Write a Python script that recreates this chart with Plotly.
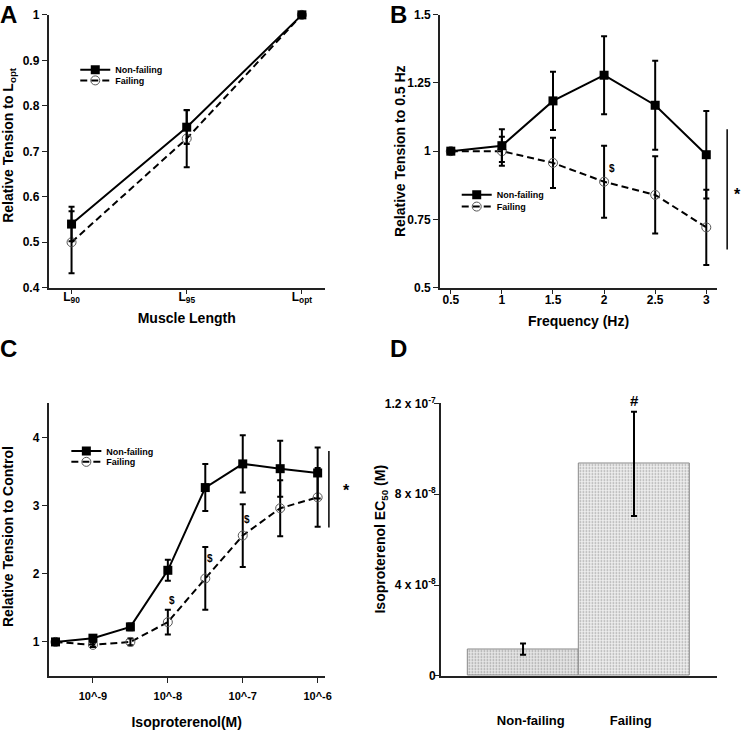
import plotly.graph_objects as go

FONT = "Liberation Sans, Arial, sans-serif"

# ---------- Panel A data ----------
a_cats = [0, 1, 2]
a_ticktext = ["L<sub>90</sub>", "L<sub>95</sub>", "L<sub>opt</sub>"]
a_nf = [0.54, 0.753, 1.0]
a_nf_err = [0.038, 0.037, 0.0]
a_f = [0.50, 0.728, 1.0]
a_f_err = [0.068, 0.063, 0.0]

# ---------- Panel B data ----------
b_freq = [0.5, 1, 1.5, 2, 2.5, 3]
b_nf = [1.0, 1.02, 1.184, 1.278, 1.168, 0.987]
b_nf_err = [0.0, 0.06, 0.107, 0.143, 0.163, 0.16]
b_f = [1.0, 1.0, 0.957, 0.888, 0.840, 0.721]
b_f_err = [0.0, 0.053, 0.092, 0.132, 0.141, 0.138]

# ---------- Panel C data ----------
c_logconc = [-9.5, -9, -8.5, -8, -7.5, -7, -6.5, -6]
c_tickvals = [-9, -8, -7, -6]
c_ticktext = ["10^-9", "10^-8", "10^-7", "10^-6"]
c_nf = [1.0, 1.055, 1.22, 2.05, 3.263, 3.61, 3.54, 3.477]
c_nf_err = [0.0, 0.04, 0.05, 0.155, 0.345, 0.42, 0.41, 0.375]
c_f = [1.0, 0.957, 1.0, 1.29, 1.93, 2.56, 2.96, 3.12]
c_f_err = [0.0, 0.03, 0.05, 0.18, 0.46, 0.46, 0.41, 0.43]

# ---------- Panel D data ----------
d_groups = ["Non-failing", "Failing"]
d_ec50 = [1.18e-8, 9.34e-8]
d_err = [0.25e-8, 2.3e-8]
d_tickvals = [0, 4e-8, 8e-8, 1.2e-7]
d_ticktext = ["0", "4 x 10<sup>-8</sup>", "8 x 10<sup>-8</sup>", "1.2 x 10<sup>-7</sup>"]

fig = go.Figure()

def add_pair(x, nf, nfe, f, fe, xa, ya, leg_nf, leg_f):
    fig.add_trace(go.Scatter(
        x=x, y=f, name="Failing", mode="lines+markers",
        line=dict(color="black", width=2, dash="7px,4px"),
        marker=dict(symbol="circle-open", size=9, color="#555", line=dict(width=1)),
        error_y=dict(type="data", array=fe, color="black", thickness=2, width=3),
        xaxis=xa, yaxis=ya, legend=leg_f, cliponaxis=False))
    fig.add_trace(go.Scatter(
        x=x, y=nf, name="Non-failing", mode="lines+markers",
        line=dict(color="black", width=2),
        marker=dict(symbol="square", size=9, color="black"),
        error_y=dict(type="data", array=nfe, color="black", thickness=2, width=3),
        xaxis=xa, yaxis=ya, legend=leg_nf, cliponaxis=False))

add_pair(a_cats, a_nf, a_nf_err, a_f, a_f_err, "x", "y", "legend", "legend2")
add_pair(b_freq, b_nf, b_nf_err, b_f, b_f_err, "x2", "y2", "legend3", "legend4")
add_pair(c_logconc, c_nf, c_nf_err, c_f, c_f_err, "x3", "y3", "legend5", "legend6")

fig.add_trace(go.Bar(
    x=[0, 1], y=d_ec50, width=1, xaxis="x4", yaxis="y4", showlegend=False,
    marker=dict(color=["#e6e6e6", "#eeeeee"], line=dict(color="#8a8a8a", width=1),
                pattern=dict(shape=".", fgcolor=["#c4c4c4", "#d4d4d4"], bgcolor=["#eeeeee", "#f2f2f2"],
                             size=3, solidity=0.25)),
    error_y=dict(type="data", array=d_err, color="black", thickness=2, width=3),
))

tickfont = dict(family=FONT, size=12, color="black", weight="bold")
titlefont = dict(family=FONT, size=14, color="black", weight="bold")
common = dict(showline=True, linecolor="#222", linewidth=1.5, ticks="outside", ticklen=5,
              tickwidth=1.2, tickcolor="#222", showgrid=False, zeroline=False,
              tickfont=tickfont)

leg_common = dict(bgcolor="rgba(0,0,0,0)", font=dict(family=FONT, size=9, color="black", weight="bold"),
                  itemwidth=30, xanchor="left", yanchor="middle")

fig.update_layout(
    width=750, height=730, margin=dict(l=0, r=0, t=0, b=0),
    paper_bgcolor="white", plot_bgcolor="white",
    bargap=0,
    xaxis=dict(domain=[0.0653, 0.4373], range=[-0.2, 2.2], tickvals=a_cats, ticktext=a_ticktext,
               ticklabelstandoff=-8,
               title=dict(text="Muscle Length", font=titlefont, standoff=9), **common),
    yaxis=dict(domain=[0.6096, 0.9918], range=[0.4, 1.0], dtick=0.1, **common),
    xaxis2=dict(domain=[0.592, 0.9653], range=[0.393, 3.107], tickvals=b_freq,
                ticktext=["0.5", "1", "1.5", "2", "2.5", "3"], ticklabelstandoff=-5,
                title=dict(text="Frequency (Hz)", font=titlefont, standoff=10), anchor="y2", **common),
    yaxis2=dict(domain=[0.6096, 0.9922], range=[0.5, 1.5], tickvals=[0.5, 0.75, 1, 1.25, 1.5],
                ticktext=["0.5", "0.75", "1", "1.25", "1.5"], anchor="x2", **common),
    xaxis3=dict(domain=[0.0653, 0.4373], range=[-9.593, -5.903], tickvals=c_tickvals, ticktext=c_ticktext,
                ticklabelstandoff=4,
                title=dict(text="Isoproterenol(M)", font=titlefont, standoff=18), anchor="y3",
                **{**common, "tickfont": dict(family=FONT, size=11, color="black", weight="bold")}),
    yaxis3=dict(domain=[0.0658, 0.4479], range=[0.5, 4.5], tickvals=[1, 2, 3, 4], anchor="x3", **common),
    xaxis4=dict(domain=[0.5933, 0.9653], range=[-0.741, 1.75], tickvals=[0.07, 0.97], ticktext=d_groups,
                anchor="y4", ticklabelstandoff=32,
                **{**common, "ticks": "", "tickfont": dict(family=FONT, size=13, color="black", weight="bold")}),
    yaxis4=dict(domain=[0.066, 0.4475], range=[0, 1.2e-7], tickvals=d_tickvals, ticktext=d_ticktext,
                anchor="x4", ticklabelstandoff=-4,
                **{**common, "tickfont": dict(family=FONT, size=12, color="black", weight="bold")}),
    legend=dict(x=0.1013, y=1 - 62 / 730, **leg_common),
    legend2=dict(x=0.1013, y=1 - 73 / 730, **leg_common),
    legend3=dict(x=0.6147, y=1 - 190 / 730, **leg_common),
    legend4=dict(x=0.6147, y=1 - 202 / 730, **leg_common),
    legend5=dict(x=0.0893, y=1 - 452 / 730, **leg_common),
    legend6=dict(x=0.0893, y=1 - 463 / 730, **leg_common),
)

# y-axis titles placed by hand
for txt, xp, yp in [("Relative Tension to L<sub>opt</sub>", 9, 139),
                    ("Relative Tension to 0.5 Hz", 404, 145),
                    ("Relative Tension to Control", 8, 539),
                    ("Isoproterenol EC<sub>50</sub> (M)", 385, 542)]:
    fig.add_annotation(text=txt, x=xp / 750, y=1 - yp / 730, xref="paper", yref="paper",
                       xanchor="center", yanchor="middle", textangle=-90, showarrow=False, font=titlefont)

# Panel letters
for txt, x, y, xs, ys in [("A", 0.0, 1.0, -2, 10), ("B", 0.523, 1.0, -1, 10),
                          ("C", 0.0, 1 - 338 / 730, -2, 7), ("D", 0.523, 1 - 338 / 730, -1, 7)]:
    fig.add_annotation(text=txt, x=x, y=y, xref="paper", yref="paper", xanchor="left", yanchor="top",
                       showarrow=False, xshift=xs, yshift=ys,
                       font=dict(family=FONT, size=24, color="black", weight="bold"))

# Significance marks
mark_font = dict(family=FONT, size=10, color="black", weight="bold")
fig.add_annotation(text="$", x=2.08, y=0.935, xref="x2", yref="y2", showarrow=False, font=mark_font)
for xv, yv in [(-6.94, 2.8), (-7.44, 2.22), (-7.95, 1.6)]:
    fig.add_annotation(text="$", x=xv, y=yv, xref="x3", yref="y3", showarrow=False, font=mark_font)
star_font = dict(family=FONT, size=16, color="black", weight="bold")
fig.add_annotation(text="*", x=1.0, y=1 - 190 / 730, xref="paper", yref="paper", showarrow=False,
                   xanchor="right", yanchor="middle", font=star_font)
fig.add_annotation(text="*", x=350 / 750, y=1 - 492 / 730, xref="paper", yref="paper", showarrow=False,
                   xanchor="center", yanchor="middle", font=star_font)
fig.add_annotation(text="#", x=1, y=1.2e-7, xref="x4", yref="y4", showarrow=False,
                   font=dict(family=FONT, size=15, color="black", weight="bold"), yanchor="bottom", yshift=-8)

fig.add_shape(type="line", xref="paper", yref="paper", x0=734 / 750, x1=734 / 750,
              y0=1 - 246 / 730, y1=1 - 123 / 730, line=dict(color="black", width=1.5))
fig.add_shape(type="line", xref="paper", yref="paper", x0=332 / 750, x1=332 / 750,
              y0=1 - 530 / 730, y1=1 - 452 / 730, line=dict(color="black", width=1.5))

fig.write_html("out.html", config={"displayModeBar": False},
               post_script="document.body.style.margin='0px';")
